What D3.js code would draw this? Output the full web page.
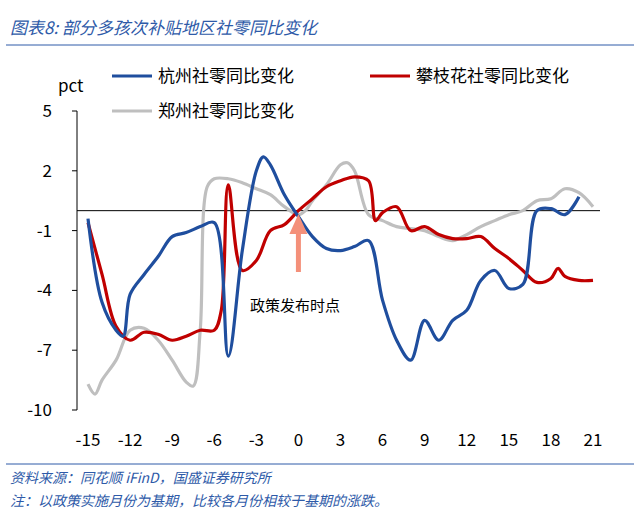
<!DOCTYPE html>
<html><head><meta charset="utf-8">
<script src="https://cdn.jsdelivr.net/npm/d3@7"></script>
<style>body{margin:0;background:#fff}text{font-family:"Noto Sans CJK SC",sans-serif}</style>
</head><body><svg id="c" width="640" height="519"></svg>
<script>
var blueX = [-15,-14,-13,-12.5,-12,-11,-10,-9,-8,-7,-6,-5,-4,-3,-2.5,-2,-1,0,1,2,3,4,5,6,7,8,9,10,11,12,13,14,15,16,17,18,19,20];
var blueY = [-0.4,-4.6,-6.0,-6.3,-4.2,-3.2,-2.3,-1.3,-1.1,-0.8,-0.6,-7.3,-2,2,2.7,2.3,0.8,-0.3,-1.3,-1.9,-2,-1.8,-1.5,-4.5,-6.5,-7.5,-5.5,-6.5,-5.5,-5,-3.5,-3,-3.9,-3.7,0,0.1,-0.2,0.7];
var redX = [-15,-14,-13,-12,-11,-10,-9,-8,-7,-6,-5.5,-5,-4,-3,-2,-1,0,1,2,3,4,5,5.5,6,7,8,9,10,11,12,13,14,15,16,17,18,18.5,19,20,21];
var redY = [-0.6,-3.2,-5.8,-6.5,-6.1,-6.2,-6.5,-6.3,-6.0,-6.0,-5,1.3,-3.0,-2.5,-1,-0.7,0,0.6,1.2,1.5,1.7,1.5,-0.5,-0.1,0.2,-1,-0.8,-1.2,-1.4,-1.4,-1.3,-1.9,-2.4,-3,-3.6,-3.4,-2.9,-3.3,-3.5,-3.5];
var grayX = [-15,-14.5,-14,-13,-12,-11,-10,-9,-8,-7.5,-7,-6.5,-6,-5,-4,-3,-2,-1,0,0.5,1,2,3,3.5,4,5,6,7,8,9,10,11,12,13,14,15,16,17,18,19,20,21];
var grayY = [-8.7,-9.2,-8.5,-7.5,-6.0,-5.9,-6.5,-7.5,-8.6,-8.8,-6,1.2,1.6,1.6,1.4,1.1,0.8,0.2,-0.2,0,0.5,1.3,2.3,2.4,2,-0.2,-0.5,-0.8,-0.9,-1.0,-1.3,-1.5,-1.2,-0.8,-0.5,-0.2,0,0.5,0.6,1.1,0.9,0.2];
var xTicks = [-15,-12,-9,-6,-3,0,3,6,9,12,15,18,21];
var yTicks = [5,2,-1,-4,-7,-10];

var svg = d3.select('#c');
var x = d3.scaleLinear().domain([-15,21]).range([88,593]);
var y = d3.scaleLinear().domain([-10,5]).range([410,111]);
var blue = '#1F4E9E', red = '#C00000', gray = '#BFBFBF', tc = '#2E5AA8';

svg.append('text').attr('x',10).attr('y',34).attr('fill',tc).attr('font-size',17)
  .attr('font-style','italic').text('图表8:  部分多孩次补贴地区社零同比变化');
svg.append('line').attr('x1',6).attr('x2',634).attr('y1',45).attr('y2',45).attr('stroke',tc).attr('stroke-width',1);
svg.append('line').attr('x1',6).attr('x2',634).attr('y1',464).attr('y2',464).attr('stroke',tc).attr('stroke-width',1);
svg.append('text').attr('x',10).attr('y',483).attr('fill',tc).attr('font-size',14).attr('font-style','italic').text('资料来源：同花顺 iFinD，国盛证券研究所');
svg.append('text').attr('x',10).attr('y',506).attr('fill',tc).attr('font-size',14).attr('font-style','italic').text('注：以政策实施月份为基期，比较各月份相较于基期的涨跌。');

svg.append('line').attr('x1',77).attr('x2',77).attr('y1',y(5)).attr('y2',y(-10)).attr('stroke','#000');
yTicks.forEach(function(t){
  svg.append('line').attr('x1',72).attr('x2',77).attr('y1',y(t)).attr('y2',y(t)).attr('stroke','#000');
  svg.append('text').attr('x',52).attr('y',y(t)+6).attr('text-anchor','end').attr('font-size',17).text(t);
});
svg.append('text').attr('x',58).attr('y',92).attr('font-size',17).text('pct');
svg.append('line').attr('x1',77).attr('x2',600).attr('y1',y(0)).attr('y2',y(0)).attr('stroke','#000');
xTicks.forEach(function(t){
  svg.append('text').attr('x',x(t)).attr('y',446).attr('text-anchor','middle').attr('font-size',17).text(t);
});

function draw(xs, ys, col){
  var pts = xs.map(function(v,i){return [v, ys[i]];});
  svg.append('path').datum(pts).attr('fill','none').attr('stroke',col).attr('stroke-width',3.2)
    .attr('d', d3.line().x(function(d){return x(d[0]);}).y(function(d){return y(d[1]);}).curve(d3.curveCatmullRom.alpha(0.5)));
}
draw(grayX, grayY, gray);
draw(redX, redY, red);
draw(blueX, blueY, blue);

// arrow
svg.append('line').attr('x1',x(0)).attr('x2',x(0)).attr('y1',272).attr('y2',232).attr('stroke','#F4907A').attr('stroke-width',5);
svg.append('path').attr('d','M'+(x(0)-9)+',234 L'+x(0)+',214 L'+(x(0)+9)+',234 Z').attr('fill','#F4907A');
svg.append('text').attr('x',250).attr('y',311).attr('font-size',15).text('政策发布时点');

// legend
var leg = [['杭州社零同比变化',blue,112,82],['攀枝花社零同比变化',red,370,82],['郑州社零同比变化',gray,112,117]];
leg.forEach(function(l){
  svg.append('line').attr('x1',l[2]).attr('x2',l[2]+40).attr('y1',l[3]-6).attr('y2',l[3]-6).attr('stroke',l[1]).attr('stroke-width',3.2);
  svg.append('text').attr('x',l[2]+46).attr('y',l[3]).attr('font-size',17).text(l[0]);
});
</script></body></html>
